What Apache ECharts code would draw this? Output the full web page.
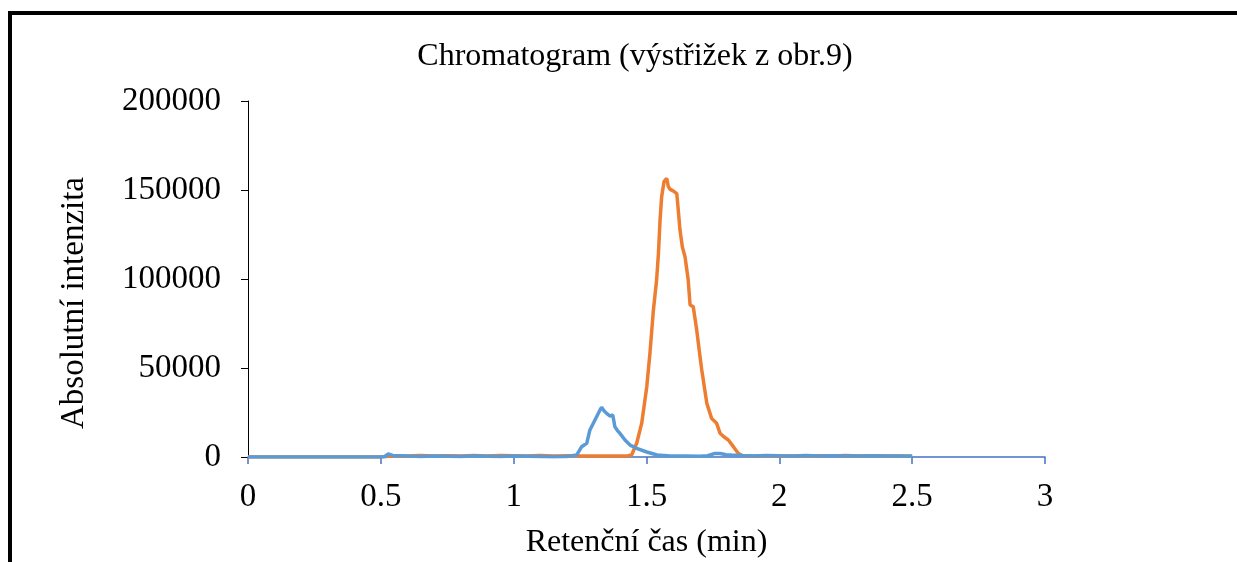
<!DOCTYPE html>
<html>
<head>
<meta charset="utf-8">
<script src="https://cdn.jsdelivr.net/npm/echarts@6/dist/echarts.min.js"></script>
<style>
  html, body {margin: 0; padding: 0; background: #fff;}
  #chart {width: 1237px; height: 562px;}
</style>
</head>
<body>
<div id="chart"></div>
<script>
// osa x
const xTicks = [0, 0.5, 1, 1.5, 2, 2.5, 3]
const yTicks = [0, 50000, 100000, 150000, 200000]

// [čas (min), intenzita] - oranžová stopa
const orangePoints = [
  [0, 0], [0.1, 0], [0.2, 0], [0.3, 0], [0.4, 0], [0.5, 0],
  [0.55, 700], [0.6, 600], [0.65, 800], [0.7, 500], [0.75, 700], [0.8, 600],
  [0.85, 900], [0.9, 600], [0.95, 800], [1.0, 700], [1.05, 500], [1.1, 800],
  [1.15, 600], [1.2, 700], [1.25, 500], [1.3, 600], [1.35, 500], [1.4, 600],
  [1.43, 700], [1.444, 1100], [1.463, 7700], [1.482, 19000], [1.501, 39500],
  [1.513, 58400], [1.526, 82600], [1.538, 99400], [1.545, 114400], [1.551, 133100],
  [1.557, 146200], [1.566, 154700], [1.576, 156500], [1.582, 152000], [1.588, 150500],
  [1.6, 149500], [1.607, 149000], [1.614, 148000], [1.62, 138000], [1.626, 127500],
  [1.635, 118000], [1.645, 112500], [1.657, 99400], [1.664, 85400], [1.67, 85000],
  [1.676, 84400], [1.689, 71300], [1.7, 58000], [1.708, 48900], [1.727, 30200],
  [1.745, 21700], [1.764, 18900], [1.777, 13300], [1.79, 11500], [1.808, 9550],
  [1.827, 5800], [1.846, 2000], [1.86, 800], [1.9, 600], [1.95, 500], [2.0, 700],
  [2.05, 600], [2.1, 500], [2.15, 700], [2.2, 600], [2.25, 800], [2.3, 500],
  [2.35, 700], [2.4, 600], [2.45, 500], [2.5, 600],
]

// modrá stopa
const bluePoints = [
  [0, 0], [0.1, 0], [0.2, 0], [0.3, 0], [0.4, 0], [0.5, 0],
  [0.515, 300], [0.528, 1700], [0.545, 900], [0.6, 500], [0.65, 300], [0.7, 500],
  [0.75, 400], [0.8, 300], [0.85, 500], [0.9, 400], [0.95, 300], [1.0, 500],
  [1.05, 400], [1.1, 300], [1.15, 200], [1.2, 300], [1.237, 1100], [1.256, 5800],
  [1.275, 7700], [1.287, 15200], [1.306, 20800], [1.325, 26400], [1.331, 27900],
  [1.34, 26000], [1.35, 24500], [1.363, 23000], [1.373, 23600], [1.381, 17000],
  [1.39, 15000], [1.4, 13300], [1.419, 9550], [1.438, 6700], [1.463, 4900],
  [1.501, 2800], [1.54, 1100], [1.59, 500], [1.65, 600], [1.7, 400], [1.73, 700],
  [1.758, 2000], [1.777, 2000], [1.8, 1300], [1.82, 1100], [1.86, 800], [1.9, 600],
  [1.95, 900], [2.0, 700], [2.05, 600], [2.1, 800], [2.15, 500], [2.2, 700],
  [2.25, 600], [2.3, 500], [2.35, 700], [2.4, 600], [2.45, 500], [2.5, 400],
]

const font = 'Liberation Serif'
const chart = echarts.init(document.getElementById('chart'))

chart.setOption({
  animation: false,
  backgroundColor: '#fff',
  title: {
    text: 'Chromatogram (výstřižek z obr.9)',
    left: 630,
    textAlign: 'center',
    top: 36,
    textStyle: {fontFamily: font, fontSize: 32, fontWeight: 'normal', color: '#000'},
  },
  graphic: [{
    type: 'rect',
    shape: {x: 10, y: 13, width: 1400, height: 700},
    style: {fill: 'none', stroke: '#000', lineWidth: 4},
    silent: true,
  }],
  grid: {left: 248, right: 192, top: 101, bottom: 105, outerBoundsMode: 'none'},
  xAxis: {
    type: 'value',
    min: xTicks[0],
    max: xTicks[xTicks.length - 1],
    interval: 0.5,
    name: 'Retenční čas (min)',
    nameLocation: 'middle',
    nameGap: 70,
    nameTextStyle: {fontFamily: font, fontSize: 32, color: '#000'},
    axisLine: {lineStyle: {color: '#4472C4', width: 1.5}},
    axisTick: {length: 7, lineStyle: {color: '#4472C4', width: 1.5}},
    axisLabel: {fontFamily: font, fontSize: 33, color: '#000', margin: 24},
    splitLine: {show: false},
  },
  yAxis: {
    type: 'value',
    min: yTicks[0],
    max: yTicks[yTicks.length - 1],
    interval: 50000,
    name: 'Absolutní intenzita',
    nameLocation: 'middle',
    nameGap: 157,
    nameTextStyle: {fontFamily: font, fontSize: 33, color: '#000', padding: [0, 48, 0, 0]},
    axisLine: {show: true, lineStyle: {color: '#000', width: 1}},
    axisTick: {show: true, length: 7, lineStyle: {color: '#000'}},
    axisLabel: {
      fontFamily: font, fontSize: 33, color: '#000', margin: 27,
      formatter: v => String(v),
    },
    splitLine: {show: false},
  },
  series: [
    {
      type: 'line',
      data: orangePoints,
      showSymbol: false,
      lineStyle: {color: '#ED7D31', width: 3.5},
      itemStyle: {color: '#ED7D31'},
    },
    {
      type: 'line',
      data: bluePoints,
      showSymbol: false,
      lineStyle: {color: '#5B9BD5', width: 3.5},
      itemStyle: {color: '#5B9BD5'},
    },
  ],
})
</script>
</body>
</html>
